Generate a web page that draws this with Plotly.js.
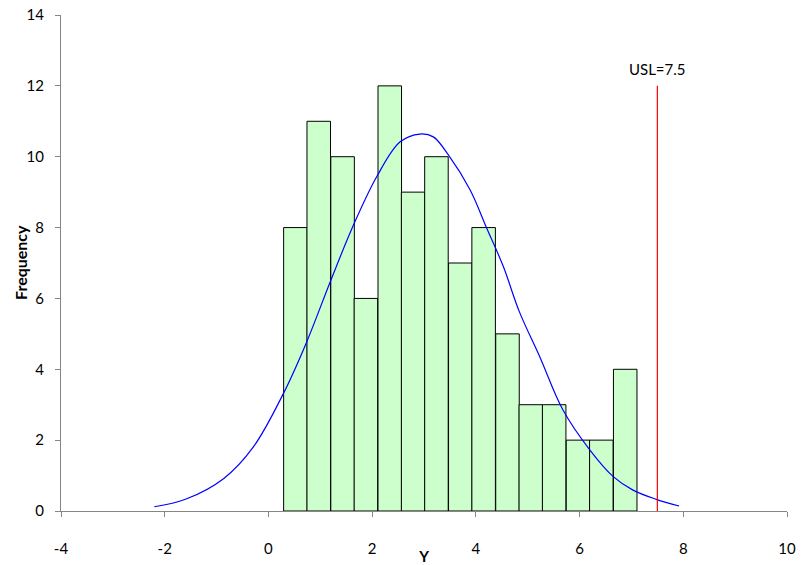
<!DOCTYPE html>
<html>
<head>
<meta charset="utf-8">
<script src="https://cdn.plot.ly/plotly-3.0.1.min.js"></script>
<style>html,body{margin:0;padding:0;background:#fff;}#chart{width:801px;height:565px;}</style>
</head>
<body>
<div id="chart"></div>
<script>
// Histogram bins (centers) and frequencies
const binCenters = [0.52, 0.97, 1.43, 1.88, 2.34, 2.79, 3.24, 3.70, 4.15, 4.61, 5.06, 5.51, 5.97, 6.42, 6.88];
const frequencies = [8, 11, 10, 6, 12, 9, 10, 7, 8, 5, 3, 3, 2, 2, 4];
const binWidth = 0.4537;

// Fitted normal curve
const curveX = [-2.20, -1.60, -0.86, -0.29, 0.29, 0.74, 1.20, 1.64, 2.09, 2.54, 2.92, 3.18, 3.47, 3.89, 4.21, 4.53, 4.84, 5.23, 5.68, 6.20, 6.65, 7.03, 7.48, 7.92];
const curveY = [0.12, 0.33, 0.92, 1.81, 3.32, 4.78, 6.50, 8.07, 9.44, 10.42, 10.64, 10.56, 10.05, 9.06, 7.98, 6.90, 5.62, 4.36, 2.85, 1.72, 0.97, 0.59, 0.33, 0.14];

// Spec limit
const uslValue = 7.5;
const uslTop = 12;
const uslLabel = "USL=7.5";

const xTickVals = [-4, -2, 0, 2, 4, 6, 8, 10];
const yTickVals = [0, 2, 4, 6, 8, 10, 12, 14];
const xTitle = 'Y';
const yTitle = 'Frequency';

const FONT = "Lato, 'Open Sans', sans-serif";

const traces = [
  {
    type: 'bar',
    x: binCenters,
    y: frequencies,
    width: binCenters.map(() => binWidth),
    marker: {color: '#ccffcc', line: {color: '#000000', width: 1}},
    hoverinfo: 'x+y'
  },
  {
    type: 'scatter',
    mode: 'lines',
    x: curveX,
    y: curveY,
    line: {color: '#0000ff', width: 1.2, shape: 'spline', smoothing: 1},
    hoverinfo: 'skip'
  },
  {
    type: 'scatter',
    mode: 'lines',
    x: [uslValue, uslValue],
    y: [0, uslTop],
    line: {color: '#ff0000', width: 1.2},
    hoverinfo: 'skip'
  }
];

const layout = {
  width: 801,
  height: 565,
  margin: {l: 60.5, r: 13.5, t: 15, b: 54},
  paper_bgcolor: '#ffffff',
  plot_bgcolor: '#ffffff',
  showlegend: false,
  bargap: 0,
  font: {family: FONT, size: 15, color: '#000000'},
  xaxis: {
    range: [-4, 10],
    tickvals: xTickVals,
    ticktext: xTickVals.map(String),
    showgrid: false,
    zeroline: false,
    showline: true,
    linecolor: '#868686',
    linewidth: 1,
    ticks: 'outside',
    ticklen: 5,
    tickcolor: '#868686',
    ticklabelstandoff: 19,
    tickfont: {family: FONT, size: 15, color: '#000000'},
    title: {text: xTitle, font: {family: FONT, size: 15, color: '#000000', weight: 'bold'}, standoff: 0},
    automargin: false
  },
  yaxis: {
    range: [0, 14],
    tickvals: yTickVals,
    ticktext: yTickVals.map(String),
    showgrid: false,
    zeroline: false,
    showline: true,
    linecolor: '#868686',
    linewidth: 1,
    ticks: 'outside',
    ticklen: 5,
    tickcolor: '#868686',
    ticklabelstandoff: 8,
    tickfont: {family: FONT, size: 15, color: '#000000'},
    automargin: false
  },
  annotations: [
    {
      x: uslValue, y: uslTop, xref: 'x', yref: 'y',
      text: uslLabel, showarrow: false,
      yanchor: 'bottom', yshift: 6,
      font: {family: FONT, size: 15, color: '#000000'}
    },
    {
      x: 0, y: 0.5, xref: 'paper', yref: 'paper',
      xanchor: 'center', yanchor: 'middle', xshift: -41,
      text: yTitle, textangle: -90, showarrow: false,
      font: {family: FONT, size: 16, color: '#000000', weight: 'bold'}
    }
  ]
};

Plotly.newPlot('chart', traces, layout, {displayModeBar: false, staticPlot: true});
</script>
</body>
</html>
